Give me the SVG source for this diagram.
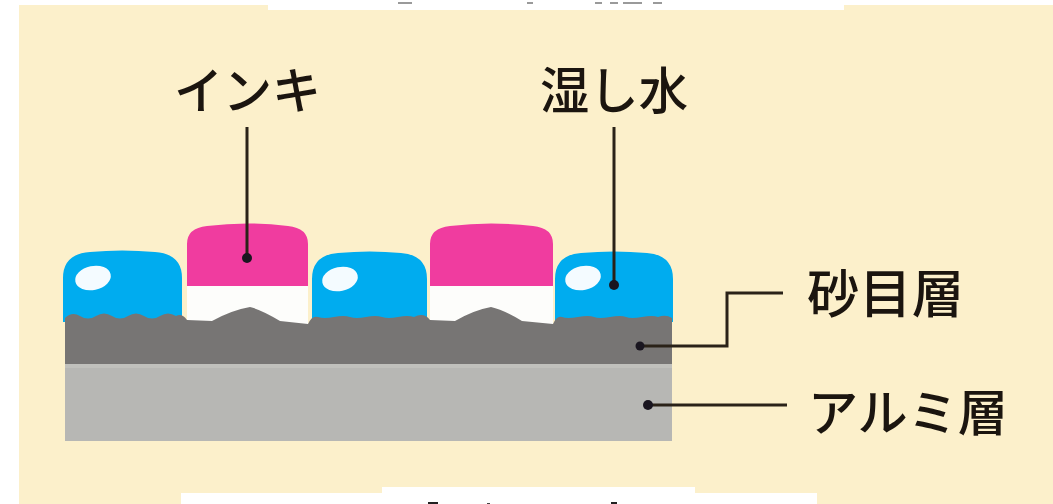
<svg xmlns="http://www.w3.org/2000/svg" width="1053" height="504" viewBox="0 0 1053 504">
  <style>
    .label { font-family: "Noto Sans CJK JP", "Noto Sans", sans-serif; font-weight: 500; fill: #1b150f; }
    .lead { fill: none; stroke: #2a2218; stroke-width: 3; }
    .dot { fill: #1a1620; }
    .water { fill: #00acef; }
    .shine { fill: #f4fbff; }
    .ink { fill: #f03c9f; }
    .base { fill: #fdfdfb; }
    .scrap { fill: #9a9a9a; }
  </style>

  <!-- page and trimmed margins -->
  <rect x="0" y="0" width="1053" height="504" fill="#ffffff"/>
  <rect x="19" y="5" width="1034" height="499" fill="#fcf0cb"/>
  <rect x="268" y="0" width="576" height="10" fill="#ffffff"/>
  <rect x="181" y="493" width="636" height="11" fill="#ffffff"/>
  <rect x="382" y="487" width="313" height="17" fill="#ffffff"/>
  <g id="edge-marks">
    <rect class="scrap" x="398" y="2" width="14" height="2"/>
    <rect class="scrap" x="527" y="2" width="6" height="2"/>
    <rect class="scrap" x="595" y="2" width="7" height="2"/>
    <rect class="scrap" x="610" y="2" width="8" height="2"/>
    <rect class="scrap" x="623" y="2" width="19" height="2"/>
    <rect class="scrap" x="653" y="2" width="9" height="2"/>
    <rect x="428" y="502" width="10" height="2" fill="#222"/>
    <rect x="487" y="503" width="3" height="1" fill="#444"/>
    <rect x="611" y="502" width="6" height="2" fill="#222"/>
  </g>

  <!-- dampening water drops -->
  <g id="water-1">
    <path class="water" d="M63,322 L63,278 Q63,254 90,252 Q122,249 155,252 Q182,254 182,278 L182,322 Z"/>
    <ellipse class="shine" cx="93" cy="278" rx="18" ry="12" transform="rotate(-12 93 278)"/>
  </g>
  <g id="water-2">
    <path class="water" d="M312,322 L312,279 Q312,255 338,253 Q370,250 401,253 Q427,255 427,279 L427,322 Z"/>
    <ellipse class="shine" cx="340" cy="279" rx="18" ry="12" transform="rotate(-12 340 279)"/>
  </g>
  <g id="water-3">
    <path class="water" d="M555,322 L555,279 Q555,255 581,253 Q614,250 647,253 Q673,255 673,279 L673,322 Z"/>
    <ellipse class="shine" cx="583" cy="278" rx="18" ry="12" transform="rotate(-12 583 278)"/>
  </g>

  <!-- ink on the image areas -->
  <g id="ink-1">
    <rect class="base" x="187" y="284" width="121" height="42"/>
    <path class="ink" d="M187,286 L187,244 Q187,228 207,226 Q247,221 288,226 Q308,228 308,244 L308,286 Z"/>
  </g>
  <g id="ink-2">
    <rect class="base" x="430" y="284" width="123" height="42"/>
    <path class="ink" d="M430,286 L430,244 Q430,228 450,226 Q491,221 533,226 Q553,228 553,244 L553,286 Z"/>
  </g>

  <!-- grained layer with rough top, and aluminium base -->
  <g id="grain-layer">
    <path fill="#777574" d="M65,318 Q72,311 80,316 T96,316 T112,316 T128,316 T144,316 T160,316 T176,316 Q182,313 187,320 L212,321 Q232,310 250,307 Q262,310 280,321 L308,324 Q312,315 318,317 T334,317 T350,317 T366,317 T382,317 T398,317 T414,317 Q424,312 430,320 L455,321 Q474,310 491,307 Q504,310 522,321 L553,324 Q557,315 562,317 T578,317 T594,317 T610,317 T626,317 T642,317 T658,317 Q666,314 672,318 L672,365 L65,365 Z"/>
  </g>
  <g id="aluminium-layer">
    <rect x="65" y="364" width="607" height="77" fill="#b7b7b4"/>
    <rect x="65" y="364" width="607" height="4" fill="#c0c0bc"/>
  </g>

  <!-- labels -->
  <g id="label-ink">
    <text class="label" x="174" y="109" font-size="50" textLength="147" lengthAdjust="spacingAndGlyphs">インキ</text>
  </g>
  <g id="label-water">
    <text class="label" x="540" y="109" font-size="50" textLength="148" lengthAdjust="spacingAndGlyphs">湿し水</text>
  </g>
  <g id="label-grain">
    <text class="label" x="807" y="313" font-size="52" textLength="157" lengthAdjust="spacingAndGlyphs">砂目層</text>
  </g>
  <g id="label-aluminium">
    <text class="label" x="808" y="431" font-size="50" textLength="200" lengthAdjust="spacingAndGlyphs">アルミ層</text>
  </g>

  <!-- leader lines -->
  <g id="connectors">
    <line class="lead" x1="247" y1="127" x2="247" y2="258"/>
    <circle class="dot" cx="247" cy="258" r="5"/>
    <line class="lead" x1="614" y1="127" x2="614" y2="285"/>
    <circle class="dot" cx="614" cy="285" r="5"/>
    <polyline class="lead" points="637,346 727,346 727,293 783,293"/>
    <circle class="dot" cx="640" cy="346" r="4.5"/>
    <line class="lead" x1="648" y1="405" x2="787" y2="405"/>
    <circle class="dot" cx="648" cy="405" r="5"/>
  </g>
</svg>
